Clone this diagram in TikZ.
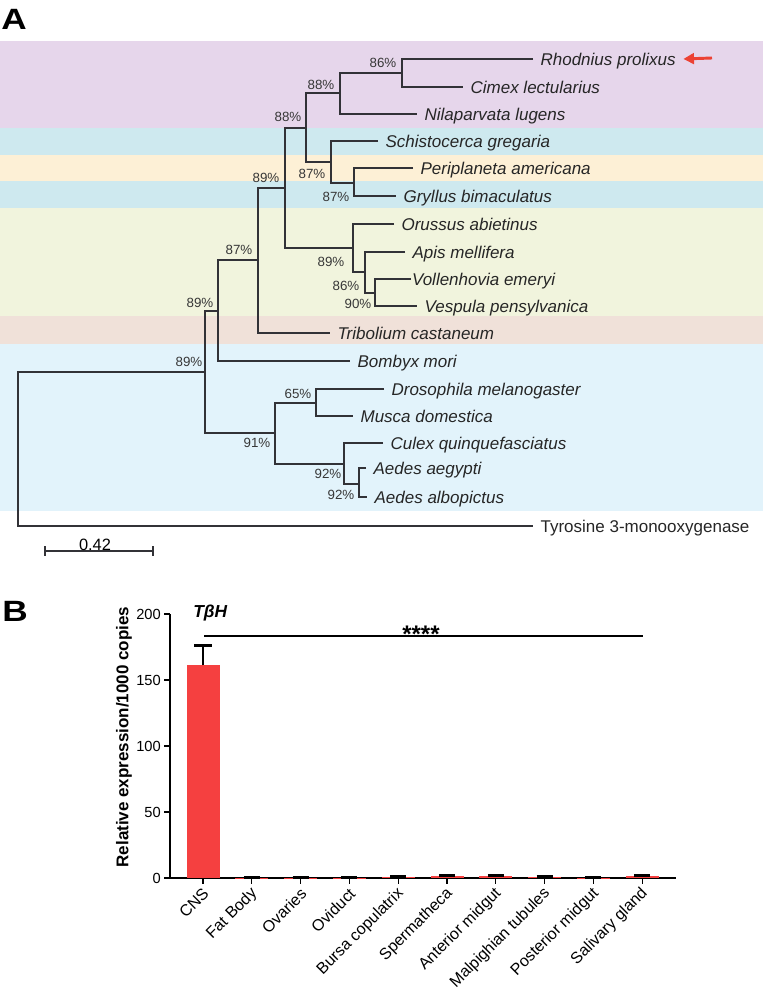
\documentclass[tikz,border=0pt]{standalone}
\usepackage{fontspec}
\setmainfont{Liberation Sans}
\usetikzlibrary{arrows.meta}
\definecolor{bandpurple}{RGB}{230,214,235}
\definecolor{bandcyan}{RGB}{206,233,239}
\definecolor{bandpeach}{RGB}{253,240,214}
\definecolor{bandgreen}{RGB}{241,244,221}
\definecolor{bandpink}{RGB}{240,225,217}
\definecolor{bandblue}{RGB}{226,243,251}
\definecolor{treeline}{RGB}{50,50,55}
\definecolor{bstext}{RGB}{55,55,55}
\definecolor{arrowred}{RGB}{236,66,52}
\definecolor{barred}{RGB}{245,64,64}
\begin{document}
\begin{tikzpicture}[x=0.75pt,y=-0.75pt,
  branch/.style={draw=treeline,line width=1pt},
  sp/.style={anchor=west,inner xsep=5.5pt,inner ysep=0pt,text height=9.1pt,text depth=0pt,
             font=\fontsize{12.75}{14}\selectfont\itshape,text=black!85},
  plainsp/.style={sp,font=\fontsize{12.75}{14}\selectfont},
  bs/.style={inner sep=0pt,font=\fontsize{10}{12}\selectfont,text=bstext},
  panel/.style={anchor=north west,inner sep=0pt,text depth=0pt,font=\fontsize{22}{26}\selectfont\bfseries},
  axisline/.style={draw=black,line width=1pt},
  ticklab/.style={anchor=east,inner sep=0pt,font=\fontsize{11}{13}\selectfont},
  xlab/.style={anchor=east,rotate=45,inner sep=1pt,font=\fontsize{12}{14}\selectfont},
  errbar/.style={draw=black,line width=2pt},
  errcap/.style={draw=black,line width=2.2pt}]
\useasboundingbox (0,0) rectangle (766,998);

% ---------- background bands ----------
\fill[bandpurple] (0,41) rectangle (763,128);
\fill[bandcyan]   (0,128) rectangle (763,155);
\fill[bandpeach]  (0,155) rectangle (763,181);
\fill[bandcyan]   (0,181) rectangle (763,208);
\fill[bandgreen]  (0,208) rectangle (763,316);
\fill[bandpink]   (0,316) rectangle (763,344);
\fill[bandblue]   (0,344) rectangle (763,511);

% ---------- panel letters ----------
\node[panel] (panelA) at (1,9) {\scalebox{1.2}[1]{A}};
\node[panel] (panelB) at (2,601) {\scalebox{1.2}[1]{B}};

% ---------- species ----------
\node[sp] (Rhod)    at (533,59)  {Rhodnius prolixus};
\node[sp] (Cimex)   at (463,87)  {Cimex lectularius};
\node[sp] (Nila)    at (417,114) {Nilaparvata lugens};
\node[sp] (Schisto) at (378,141) {Schistocerca gregaria};
\node[sp] (Peri)    at (413,168) {Periplaneta americana};
\node[sp] (Gryl)    at (396,196) {Gryllus bimaculatus};
\node[sp] (Oruss)   at (394,224) {Orussus abietinus};
\node[sp] (Apis)    at (405,252) {Apis mellifera};
\node[sp,inner xsep=0.6pt] (Vollen) at (411,279) {Vollenhovia emeryi};
\node[sp] (Vesp)    at (417,306) {Vespula pensylvanica};
\node[sp] (Trib)    at (330,333) {Tribolium castaneum};
\node[sp] (Bomb)    at (350,361) {Bombyx mori};
\node[sp] (Droso)   at (384,389) {Drosophila melanogaster};
\node[sp] (Musca)   at (353,416) {Musca domestica};
\node[sp] (Culex)   at (383,443) {Culex quinquefasciatus};
\node[sp] (Aeg)     at (366,468) {Aedes aegypti};
\node[sp] (Alb)     at (367,497) {Aedes albopictus};
\node[plainsp] (Tyro) at (533,526) {Tyrosine 3-monooxygenase};

% ---------- internal nodes ----------
\coordinate (r0)  at (18,449);
\coordinate (n1)  at (205,372);
\coordinate (n2)  at (218,311);
\coordinate (n3)  at (258,260);
\coordinate (n4)  at (285,188);
\coordinate (n5)  at (306,128);
\coordinate (n6)  at (340,93);
\coordinate (nrc) at (402,73);
\coordinate (n7)  at (331,162);
\coordinate (n8)  at (354,183);
\coordinate (nhy) at (353,248);
\coordinate (n9)  at (365,272);
\coordinate (n10) at (375,293);
\coordinate (ndp) at (275,433);
\coordinate (n11) at (316,403);
\coordinate (n12) at (344,464);
\coordinate (n13) at (359,484);

% ---------- branches ----------
\draw[branch] (Rhod.west) -| (nrc) |- (Cimex.west);
\draw[branch] (nrc) -| (n6) |- (Nila.west);
\draw[branch] (n6) -| (n5) |- (n7);
\draw[branch] (Schisto.west) -| (n7) |- (n8);
\draw[branch] (Peri.west) -| (n8) |- (Gryl.west);
\draw[branch] (n5) -| (n4) |- (nhy);
\draw[branch] (Oruss.west) -| (nhy) |- (n9);
\draw[branch] (Apis.west) -| (n9) |- (n10);
\draw[branch] (Vollen.west) -| (n10) |- (Vesp.west);
\draw[branch] (n4) -| (n3) |- (Trib.west);
\draw[branch] (n3) -| (n2) |- (Bomb.west);
\draw[branch] (n2) -| (n1) |- (ndp);
\draw[branch] (n11) -| (ndp) |- (n12);
\draw[branch] (Droso.west) -| (n11) |- (Musca.west);
\draw[branch] (Culex.west) -| (n12) |- (n13);
\draw[branch] (Aeg.west) -| (n13) |- (Alb.west);
\draw[branch] (n1) -| (r0) |- (Tyro.west);

% ---------- bootstrap values ----------
\node[bs] (b1)  at (189,362) {89\%};
\node[bs] (b2)  at (200,303) {89\%};
\node[bs] (b3)  at (239,250) {87\%};
\node[bs] (b4)  at (266,178) {89\%};
\node[bs] (b5)  at (288,117) {88\%};
\node[bs] (b6)  at (321,85)  {88\%};
\node[bs] (brc) at (383,63)  {86\%};
\node[bs] (b7)  at (312,174) {87\%};
\node[bs] (b8)  at (336,197) {87\%};
\node[bs] (bhy) at (331,262) {89\%};
\node[bs] (b9)  at (346,286) {86\%};
\node[bs] (b10) at (358,304) {90\%};
\node[bs] (bdp) at (257,443) {91\%};
\node[bs] (b11) at (298,394) {65\%};
\node[bs] (b12) at (328,474) {92\%};
\node[bs] (b13) at (341,495) {92\%};

% ---------- red arrow ----------
\coordinate (arrtail) at (712,58);
\draw[arrowred,line width=2.2pt,-{Triangle[length=8pt,width=8pt]}] (arrtail) -- (Rhod.east);

% ---------- scale bar ----------
\coordinate (sbL) at (45,551);
\coordinate (sbR) at (153,551);
\draw[draw=treeline,line width=1pt] (sbL) -- (sbR);
\draw[draw=treeline,line width=1pt] ([yshift=3.75pt]sbL) -- ([yshift=-3.75pt]sbL);
\draw[draw=treeline,line width=1pt] ([yshift=3.75pt]sbR) -- ([yshift=-3.75pt]sbR);
\node[inner sep=0pt,text depth=0pt,font=\fontsize{12.3}{14}\selectfont] (sblab) at (95,545) {0.42};

% ---------- bar chart ----------
\coordinate (org)  at (170,878);
\coordinate (ytop) at (170,614);
\coordinate (xend) at (676,878);
\draw[axisline] (ytop) -- (org) -- (xend);
\foreach \v in {0,50,100,150,200}{
  \draw[axisline] (164,{878-1.32*\v}) -- (170,{878-1.32*\v});
  \node[ticklab] (yt\v) at (161,{878-1.32*\v}) {\v};
}
\node[rotate=90,inner sep=0pt,font=\fontsize{12.75}{14}\selectfont\bfseries] (ylab) at (124,737) {Relative expression/1000 copies};
\node[anchor=base west,inner sep=0pt,font=\fontsize{13}{15}\selectfont\bfseries\itshape] (gene) at (193,617) {TβH};

% bars
\foreach \i/\v/\e/\cw in {0/161/15/9, 1/0.2/0.4/8, 2/0.2/0.3/8, 3/0.3/0.4/8, 4/0.8/0.6/8, 5/1.3/0.9/8, 6/1.2/0.8/8, 7/0.6/0.7/8, 8/0.2/0.4/8, 9/1.4/0.8/8}{
  \pgfmathsetmacro\cx{203+48.8*\i}
  \fill[barred] ({\cx-16.5},878) rectangle ({\cx+16.5},{878-1.32*\v});
  \draw[errbar] (\cx,{878-1.32*\v}) -- (\cx,{878-1.32*(\v+\e)});
  \draw[errcap] ({\cx-\cw},{878-1.32*(\v+\e)}) -- ({\cx+\cw},{878-1.32*(\v+\e)});
  \draw[axisline] (\cx,878) -- (\cx,884);
}
\foreach \i/\lab in {0/CNS,1/Fat Body,2/Ovaries,3/Oviduct,4/Bursa copulatrix,5/Spermatheca,6/Anterior midgut,7/Malpighian tubules,8/Posterior midgut,9/Salivary gland}{
  \pgfmathsetmacro\cx{203+48.8*\i}
  \node[xlab] (xl\i) at ({\cx+4},890) {\lab};
}
% significance
\coordinate (sigL) at (204,636);
\coordinate (sigR) at (643,636);
\draw[draw=black,line width=0.9pt] (sigL) -- (sigR);
\node[anchor=base,inner sep=0pt,font=\fontsize{18}{20}\selectfont\bfseries] (stars) at (421,642) {****};
\end{tikzpicture}
\end{document}
